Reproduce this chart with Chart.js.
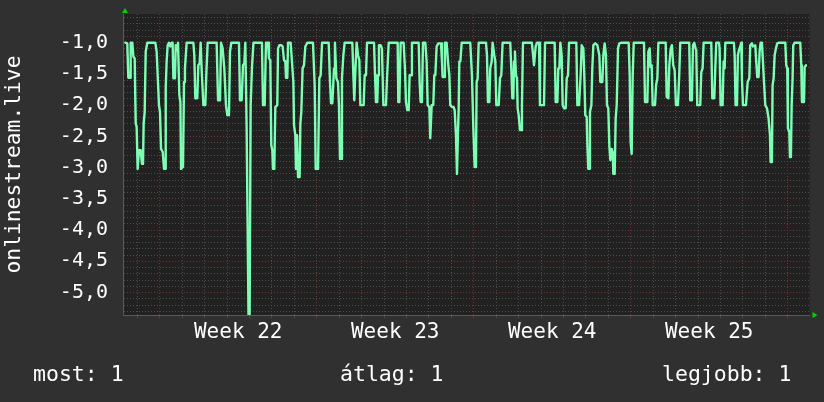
<!DOCTYPE html>
<html>
<head>
<meta charset="utf-8">
<script src="https://cdn.jsdelivr.net/npm/chart.js@4.4.1/dist/chart.umd.min.js"></script>
<style>
  body { margin: 0; background: #303030; }
  #wrap { position: relative; width: 824px; height: 402px; }
  .stat { position: absolute; top: 362px; color: #fff; font: 21.5px "DejaVu Sans Mono", monospace; line-height: 24px; white-space: pre; }
</style>
</head>
<body>
<div id="wrap">
  <canvas id="rrdChart"></canvas>
  <span class="stat" style="left:33px">most: 1</span>
  <span class="stat" style="left:340px">átlag: 1</span>
  <span class="stat" style="left:662px">legjobb: 1</span>
</div>
<script>
// hours since graph start
const hours = [
  // week 22 start
  2.5, 4.6, 5.7, 7.5, 8.2, 10.0, 11.1, 12.5, 13.6, 14.6,
  15.7, 17.1, 18.9, 20.3, 21.4, 22.1, 23.2, 24.3, 26.0, 34.6,
  36.0, 38.5, 39.6, 40.7, 42.5, 43.9, 45.0, 45.7, 46.7, 47.8,
  49.2, 50.6, 52.1, 53.1, 53.9, 55.6, 56.4, 57.4, 58.9, 59.6,
  60.3, 61.4, 62.1, 64.2, 65.3, 66.3, 68.1, 75.3, 76.3, 77.4,
  79.5, 80.6, 82.0, 83.1, 84.2, 86.0, 88.1, 89.2, 90.6, 100.2,
  101.7, 103.8, 104.9, 106.6, 108.4, 110.2, 111.6, 113.4, 114.5, 115.9,
  124.1, 125.2, 127.0, 128.4, 129.8, 130.9, 132.3, 134.3, 135.5, 136.6,
  138.0, 139.6,
  // week 22 / 23
  144.5, 148.7, 149.8, 151.6, 153.0, 155.2, 156.2, 157.6, 158.7, 159.8,
  160.5, 161.9, 163.0, 165.1, 165.9, 167.3, 169.4, 170.8, 172.3, 173.7,
  174.4, 175.8, 176.6, 179.4, 180.8, 182.3, 183.0, 184.4, 185.1, 186.2,
  187.3, 189.0, 189.8, 190.8, 192.2, 193.7, 195.1, 197.2, 203.3, 205.1,
  206.2, 208.7, 210.1, 211.5, 213.0, 220.1, 221.5, 222.6, 224.0, 225.8,
  226.8, 228.3, 230.0, 231.1, 232.2, 233.6, 234.3, 235.8, 237.2, 245.4,
  246.5, 247.5, 248.6, 250.0, 251.5, 252.9, 254.0, 257.5, 258.6, 260.0,
  261.1, 268.6, 269.7, 270.7, 272.1, 272.9, 273.9, 275.7, 277.1, 278.6,
  281.4, 282.5, 284.3,
  // week 23 / 24
  292.1, 293.9, 294.6, 295.7, 297.1, 300.3, 301.7, 302.8, 304.2, 305.7,
  306.7, 308.2, 309.2, 316.4, 317.4, 318.5, 319.9, 321.0, 323.5, 324.9,
  326.0, 327.8, 328.8, 330.3, 332.0, 333.1, 334.2, 335.6, 337.4, 340.3,
  341.3, 342.0, 343.5, 344.5, 346.3, 348.1, 349.2, 350.2, 352.0, 353.8,
  354.9, 356.3, 357.4, 358.4, 359.2, 359.9, 361.0, 362.4, 371.6, 373.4,
  374.9, 376.3, 377.7, 378.4, 379.5, 380.6, 388.4, 389.5, 390.5, 392.0,
  393.0, 394.5, 395.5, 397.3, 398.4, 399.5, 402.0, 403.4, 404.8, 406.2,
  414.4, 415.5, 416.6, 417.7, 418.4, 419.4, 420.5, 421.6, 422.3, 423.4,
  424.8, 426.2, 426.9, 428.0, 434.8, 437.5,
  // week 24 / 25
  439.8, 441.6, 443.0, 445.2, 446.2, 450.5, 451.6, 461.9, 463.0, 464.8,
  465.8, 466.9, 468.0, 469.4, 470.5, 471.9, 473.7, 474.8, 476.2, 477.3,
  485.1, 486.2, 488.0, 489.7, 490.8, 492.6, 493.7, 494.7, 496.2, 496.9,
  497.9, 499.0, 499.7, 501.2, 502.2, 503.3, 505.4, 507.6, 509.7, 510.8,
  512.9, 514.0, 515.4, 516.8, 517.9, 519.3, 520.4, 521.5, 522.9, 524.0,
  524.7, 526.1, 527.2, 528.3, 529.7, 531.1, 533.3, 541.1, 542.2, 543.2,
  544.3, 545.4, 546.5, 557.5, 558.6, 561.1, 562.2, 563.6, 564.6, 565.7,
  566.8, 569.3, 570.4, 571.8, 572.9, 580.7, 581.8, 583.6, 584.6, 586.0,
  // week 25 / end
  587.4, 588.8, 590.3, 591.7, 593.8, 595.2, 596.3, 605.9, 607.0, 608.8,
  609.9, 611.3, 612.7, 613.4, 614.5, 617.7, 618.8, 620.2, 621.3, 629.5,
  630.6, 632.7, 633.8, 634.8, 637.7, 638.4, 639.5, 641.6, 642.7, 643.8,
  644.5, 653.7, 654.5, 655.5, 657.0, 658.0, 659.1, 660.5, 661.6, 662.3,
  663.4, 666.6, 668.4, 670.2, 671.2, 673.0, 674.1, 676.6, 677.6, 678.7,
  680.1, 681.2, 682.3, 683.7, 684.8, 685.9, 687.3, 689.1, 690.8, 692.3,
  693.0, 694.4, 695.1, 696.2, 697.3, 698.7, 700.1, 701.5, 708.7, 709.7,
  710.8, 711.5, 713.0, 713.7, 714.7, 715.5, 716.5, 717.2, 718.7, 724.7,
  725.8, 726.5, 728.7, 729.4, 730.8
];

const values = [
  // week 22 start
  -1.00, -1.01, -1.56, -1.56, -1.00, -1.00, -1.22, -1.25, -2.29, -2.35,
  -3.02, -2.72, -2.72, -2.94, -2.94, -2.29, -2.11, -1.14, -1.00, -1.00,
  -1.14, -2.00, -2.11, -2.70, -2.75, -3.02, -3.02, -1.73, -1.30, -1.04,
  -1.00, -1.06, -1.00, -1.00, -1.57, -1.57, -1.04, -1.12, -1.00, -1.00,
  -1.84, -1.95, -3.02, -2.99, -1.63, -1.41, -1.00, -1.00, -1.20, -1.89,
  -1.89, -1.36, -1.33, -1.00, -1.44, -2.00, -2.00, -1.49, -1.00, -1.00,
  -1.92, -1.92, -1.00, -1.09, -1.41, -2.00, -2.16, -2.16, -1.14, -1.00,
  -1.00, -1.92, -1.92, -1.36, -1.33, -1.00, -2.37, -5.36, -5.36, -2.00,
  -1.40, -1.00,
  // week 22 / 23
  -1.00, -1.00, -2.00, -2.00, -1.00, -1.00, -1.25, -1.28, -2.64, -2.72,
  -3.02, -3.02, -2.03, -2.00, -1.09, -1.04, -1.04, -1.06, -1.28, -1.30,
  -1.56, -1.56, -1.00, -1.00, -1.30, -1.63, -2.32, -2.48, -3.02, -2.48,
  -3.15, -3.15, -2.29, -2.11, -1.41, -1.36, -1.06, -1.00, -1.00, -1.68,
  -3.02, -3.02, -1.57, -1.52, -1.00, -1.00, -1.63, -1.97, -1.97, -1.41,
  -1.00, -1.57, -1.63, -2.00, -2.86, -2.86, -1.57, -1.20, -1.00, -1.00,
  -1.52, -1.92, -1.47, -1.00, -1.20, -1.28, -2.00, -2.00, -1.52, -1.52,
  -1.00, -1.00, -1.52, -1.95, -1.95, -1.52, -1.04, -1.04, -1.09, -2.00,
  -2.00, -1.57, -1.00,
  // week 23 / 24
  -1.00, -1.00, -1.95, -1.95, -1.00, -1.00, -1.41, -1.95, -2.08, -2.08,
  -1.52, -1.52, -1.00, -1.00, -1.63, -1.95, -1.95, -1.00, -1.00, -1.30,
  -2.00, -2.03, -2.53, -2.00, -2.00, -1.52, -1.52, -1.06, -1.01, -1.01,
  -1.30, -1.55, -1.55, -1.00, -1.00, -1.36, -1.52, -2.00, -2.03, -2.03,
  -2.08, -2.48, -3.10, -2.48, -2.05, -1.30, -1.30, -1.00, -1.00, -1.52,
  -2.37, -2.99, -2.99, -1.63, -1.57, -1.00, -1.00, -1.20, -1.95, -1.95,
  -1.41, -1.30, -1.00, -1.20, -1.30, -2.00, -2.00, -1.57, -1.52, -1.00,
  -1.00, -1.41, -1.89, -1.89, -1.30, -1.14, -1.52, -1.57, -2.05, -2.16,
  -2.40, -2.40, -2.00, -1.00, -1.00, -1.00,
  // week 24 / 25
  -1.36, -1.06, -1.00, -1.00, -2.00, -2.00, -1.00, -1.00, -1.95, -1.95,
  -1.41, -1.41, -1.00, -1.20, -2.00, -2.05, -2.05, -1.57, -1.52, -1.00,
  -1.00, -2.00, -2.00, -1.52, -1.04, -1.09, -1.57, -2.16, -2.19, -2.64,
  -3.02, -3.02, -2.11, -2.00, -1.41, -1.04, -1.01, -1.04, -1.20, -1.63,
  -1.63, -1.20, -1.01, -1.20, -2.00, -2.05, -2.64, -2.88, -2.70, -2.75,
  -3.10, -3.10, -2.21, -2.00, -1.09, -1.01, -1.00, -1.00, -1.52, -2.59,
  -2.78, -1.52, -1.00, -1.00, -1.95, -1.95, -1.14, -1.09, -1.39, -1.36,
  -2.00, -2.00, -1.68, -1.57, -1.00, -1.00, -1.87, -1.89, -1.36, -1.10,
  // week 25 / end
  -1.04, -1.36, -1.44, -2.00, -2.00, -1.52, -1.00, -1.00, -1.92, -1.92,
  -1.04, -1.00, -1.09, -1.12, -2.00, -2.00, -1.47, -1.41, -1.00, -1.00,
  -1.89, -1.89, -1.41, -1.00, -1.00, -1.09, -2.00, -2.00, -1.30, -1.41,
  -1.00, -1.00, -1.20, -2.00, -2.00, -1.20, -1.12, -1.06, -1.00, -1.57,
  -2.00, -2.00, -1.63, -1.57, -1.04, -1.01, -1.06, -1.04, -1.30, -1.55,
  -1.55, -1.14, -1.00, -1.00, -1.30, -1.63, -2.00, -2.05, -2.21, -2.48,
  -2.91, -2.91, -1.68, -1.57, -1.20, -1.09, -1.01, -1.00, -1.00, -1.36,
  -1.41, -2.37, -2.43, -2.83, -2.83, -2.00, -1.57, -1.04, -1.00, -1.00,
  -1.36, -1.95, -1.95, -1.39, -1.36
];

// x axis: hours, one day = 24, first day line and first week line
const xMax = 734.6;
const firstDayLine = 15.3;
const firstWeekLine = 39.3;
const weekLabels = ["Week 22", "Week 23", "Week 24", "Week 25"];
const weekCenters = [123.3, 291.3, 459.3, 627.3];

const yMin = -5.36;
const yMax = -0.54;

const FONT = "'DejaVu Sans Mono', monospace";
const GRID_MINOR = "#4c4c4c";
const GRID_MAJOR = "#7a3030";
const LINE = "#7dffb4";

const n = Math.min(hours.length, values.length);
const points = [];
for (let i = 0; i < n; i++) points.push({ x: hours[i], y: values[i] });

function isWeekLine(v) {
  const r = ((v - firstWeekLine) % 168 + 168) % 168;
  return r < 0.01 || r > 167.99;
}
function isLabel(v) {
  return weekCenters.some(c => Math.abs(c - v) < 0.01);
}
function isMajorY(v) {
  return Math.abs(v * 2 - Math.round(v * 2)) < 1e-6;
}

const plotBg = {
  id: "plotBg",
  beforeDraw(chart) {
    const { ctx, chartArea: a } = chart;
    ctx.save();
    ctx.fillStyle = "#212121";
    ctx.fillRect(a.left, a.top, a.right - a.left, a.bottom - a.top);
    ctx.restore();
  }
};

const arrows = {
  id: "arrows",
  afterDraw(chart) {
    const { ctx, chartArea: a } = chart;
    ctx.save();
    ctx.fillStyle = "#00d000";
    ctx.beginPath();
    ctx.moveTo(a.left - 1, a.top - 1);
    ctx.lineTo(a.left + 5, a.top - 1);
    ctx.lineTo(a.left + 2, a.top - 6);
    ctx.closePath();
    ctx.fill();
    ctx.beginPath();
    ctx.moveTo(a.right + 3, a.bottom - 3);
    ctx.lineTo(a.right + 3, a.bottom + 3);
    ctx.lineTo(a.right + 8, a.bottom);
    ctx.closePath();
    ctx.fill();
    ctx.restore();
  }
};

new Chart(document.getElementById("rrdChart"), {
  type: "line",
  data: {
    datasets: [{
      data: points,
      borderColor: LINE,
      borderWidth: 2.4,
      borderJoinStyle: "round",
      borderCapStyle: "round",
      pointRadius: 0,
      tension: 0,
      fill: false
    }]
  },
  options: {
    responsive: true,
    maintainAspectRatio: false,
    animation: false,
    layout: { padding: { top: 14, right: 14.5, left: 0, bottom: 0 } },
    plugins: { legend: { display: false }, tooltip: { enabled: false } },
    scales: {
      x: {
        type: "linear",
        min: 0,
        max: xMax,
        afterBuildTicks(axis) {
          const t = [];
          for (let v = firstDayLine; v <= xMax; v += 24) t.push({ value: Math.round(v * 10) / 10 });
          weekCenters.forEach(c => t.push({ value: c }));
          t.sort((a, b) => a.value - b.value);
          axis.ticks = t;
        },
        afterFit(axis) {
          axis.height = 87;
          axis.paddingLeft = 0;
          axis.paddingRight = 0;
        },
        ticks: {
          autoSkip: false,
          maxRotation: 0,
          padding: 2,
          color: "#fff",
          font: { family: FONT, size: 21 },
          callback(v) {
            const i = weekCenters.findIndex(c => Math.abs(c - v) < 0.01);
            return i >= 0 ? weekLabels[i] : "";
          }
        },
        grid: {
          tickLength: 3,
          color(ctx) {
            const v = ctx.tick ? ctx.tick.value : 0;
            if (isLabel(v)) return "rgba(0,0,0,0)";
            return isWeekLine(v) ? GRID_MAJOR : GRID_MINOR;
          }
        },
        border: { display: true, color: "#5a5a5a", dash: [1, 2] }
      },
      y: {
        min: yMin,
        max: yMax,
        afterBuildTicks(axis) {
          const t = [];
          for (let k = -53; k <= -6; k++) t.push({ value: k / 10 });
          axis.ticks = t;
        },
        afterFit(axis) {
          axis.width = 123;
          // no extra room for half labels at the ends
          axis.paddingTop = 0;
          axis.paddingBottom = 0;
        },
        ticks: {
          autoSkip: false,
          padding: 15,
          color: "#fff",
          font: { family: FONT, size: 20 },
          callback(v) {
            return isMajorY(v) ? v.toFixed(1).replace(".", ",") : "";
          }
        },
        grid: {
          drawTicks: false,
          color(ctx) {
            const v = ctx.tick ? ctx.tick.value : 0;
            return isMajorY(v) ? GRID_MAJOR : GRID_MINOR;
          }
        },
        border: { display: true, color: "#5a5a5a", dash: [1, 2] },
        title: {
          display: true,
          text: "onlinestream.live",
          color: "#fff",
          font: { family: FONT, size: 21.3 },
          padding: { top: 2, bottom: 0 }
        }
      }
    }
  },
  plugins: [plotBg, arrows]
});
</script>
</body>
</html>
